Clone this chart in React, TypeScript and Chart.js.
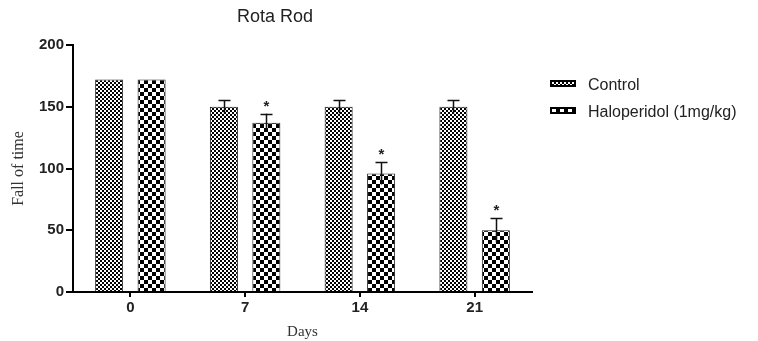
import React, { useEffect, useRef } from "react";
import { Chart, registerables } from "chart.js";

Chart.register(...registerables);

const days = ["0", "7", "14", "21"];
const controlValues = [172, 150, 150, 150];
const controlErrors = [0, 5.5, 5.5, 5.5];
const haloValues = [172, 137, 96, 50];
const haloErrors = [0, 7.5, 9, 10];
const haloMarks = ["", "*", "*", "*"];
const seriesNames = ["Control", "Haloperidol (1mg/kg)"];
const chartTitle = "Rota Rod";
const yTitle = "Fall of time";
const xTitle = "Days";

function makePattern(cell: number): CanvasPattern | string {
  const c = document.createElement("canvas");
  c.width = cell * 2;
  c.height = cell * 2;
  const g = c.getContext("2d");
  if (!g) return "#888";
  g.fillStyle = "#fff";
  g.fillRect(0, 0, cell * 2, cell * 2);
  g.fillStyle = "#000";
  g.fillRect(0, 0, cell, cell);
  g.fillRect(cell, cell, cell, cell);
  const p = g.createPattern(c, "repeat");
  return p || "#888";
}

export default function App() {
  const ref = useRef<HTMLCanvasElement | null>(null);

  useEffect(() => {
    if (!ref.current) return;
    const fine = makePattern(2);
    const coarse = makePattern(4);
    const errors = [controlErrors, haloErrors];
    const marks = [["", "", "", ""], haloMarks];

    const errorPlugin = {
      id: "errorBars",
      afterDatasetsDraw(chart: any) {
        const ctx = chart.ctx;
        const y = chart.scales.y;
        ctx.save();
        ctx.strokeStyle = "#111";
        ctx.lineWidth = 1.5;
        chart.data.datasets.forEach((ds: any, di: number) => {
          const meta = chart.getDatasetMeta(di);
          meta.data.forEach((bar: any, i: number) => {
            const v = ds.data[i];
            const e = errors[di][i];
            const x = Math.round(bar.x) + 0.5;
            const top = y.getPixelForValue(v + e);
            if (e > 0) {
              const bottom = y.getPixelForValue(v - e);
              ctx.beginPath();
              ctx.moveTo(x, bottom);
              ctx.lineTo(x, top);
              ctx.moveTo(x - 6, Math.round(top) + 0.5);
              ctx.lineTo(x + 6, Math.round(top) + 0.5);
              ctx.stroke();
            }
            const m = marks[di][i];
            if (m) {
              ctx.fillStyle = "#222";
              ctx.font = "bold 15px 'Liberation Sans', Arial, sans-serif";
              ctx.textAlign = "center";
              ctx.textBaseline = "middle";
              ctx.fillText(m, x, top - 7);
            }
          });
        });
        ctx.restore();
      },
    };

    const decorPlugin = {
      id: "decor",
      afterDraw(chart: any) {
        const ctx = chart.ctx;
        ctx.save();
        ctx.fillStyle = "#222";
        ctx.font = "18px 'Liberation Sans', Arial, sans-serif";
        ctx.textAlign = "center";
        ctx.textBaseline = "middle";
        ctx.fillText(chartTitle, 275, 17);
        // legend
        const fills = [fine, coarse];
        const ys = [83, 110];
        seriesNames.forEach((name, i) => {
          ctx.fillStyle = "#000";
          ctx.fillRect(550, ys[i] - 3, 26, 7);
          ctx.fillStyle = fills[i];
          ctx.fillRect(552, ys[i] - 1, 22, 3);
          ctx.fillStyle = "#222";
          ctx.font = "16px 'Liberation Sans', Arial, sans-serif";
          ctx.textAlign = "left";
          ctx.textBaseline = "middle";
          ctx.fillText(name, 588, ys[i] + 3);
        });
        ctx.restore();
      },
    };

    const tickFont = { family: "'Liberation Sans', Arial, sans-serif", size: 15, weight: "bold" as const };
    const titleFont = { family: "'Liberation Serif', 'Times New Roman', serif", size: 15 };

    const chart = new Chart(ref.current, {
      type: "bar",
      data: {
        labels: days,
        datasets: [
          {
            label: seriesNames[0],
            data: controlValues,
            backgroundColor: fine as any,
            borderColor: "#222",
            borderWidth: 1,
            categoryPercentage: 0.74,
            barPercentage: 0.66,
          },
          {
            label: seriesNames[1],
            data: haloValues,
            backgroundColor: coarse as any,
            borderColor: "#222",
            borderWidth: 1,
            categoryPercentage: 0.74,
            barPercentage: 0.66,
          },
        ],
      },
      options: {
        animation: false,
        responsive: true,
        maintainAspectRatio: false,
        layout: { padding: { top: 45, right: 226, left: 0, bottom: 0 } },
        plugins: {
          legend: { display: false },
          title: { display: false },
          tooltip: { enabled: false },
        },
        scales: {
          x: {
            offset: true,
            grid: { display: true, drawOnChartArea: false, drawTicks: true, tickLength: 5, color: "#000", lineWidth: 2, offset: false },
            border: { display: true, color: "#000", width: 2 },
            ticks: { color: "#222", font: tickFont, padding: 2 },
            title: { display: true, text: xTitle, color: "#333", font: titleFont, padding: { top: 6, bottom: 0 } },
            afterFit(s: any) {
              s.height = 49;
            },
          },
          y: {
            min: 0,
            max: 200,
            ticks: { stepSize: 50, color: "#222", font: tickFont, padding: 2 },
            grid: { display: true, drawOnChartArea: false, drawTicks: true, tickLength: 7, color: "#000", lineWidth: 2 },
            border: { display: true, color: "#000", width: 2 },
            title: { display: true, text: yTitle, color: "#333", font: { ...titleFont, size: 16 }, padding: { top: 9, bottom: 0 } },
            afterFit(s: any) {
              s.width = 73;
            },
          },
        },
      },
      plugins: [errorPlugin, decorPlugin],
    });
    return () => chart.destroy();
  }, []);

  return (
    <div style={{ position: "absolute", left: 0, top: 0, width: 758, height: 341 }}>
      <canvas ref={ref} />
    </div>
  );
}
